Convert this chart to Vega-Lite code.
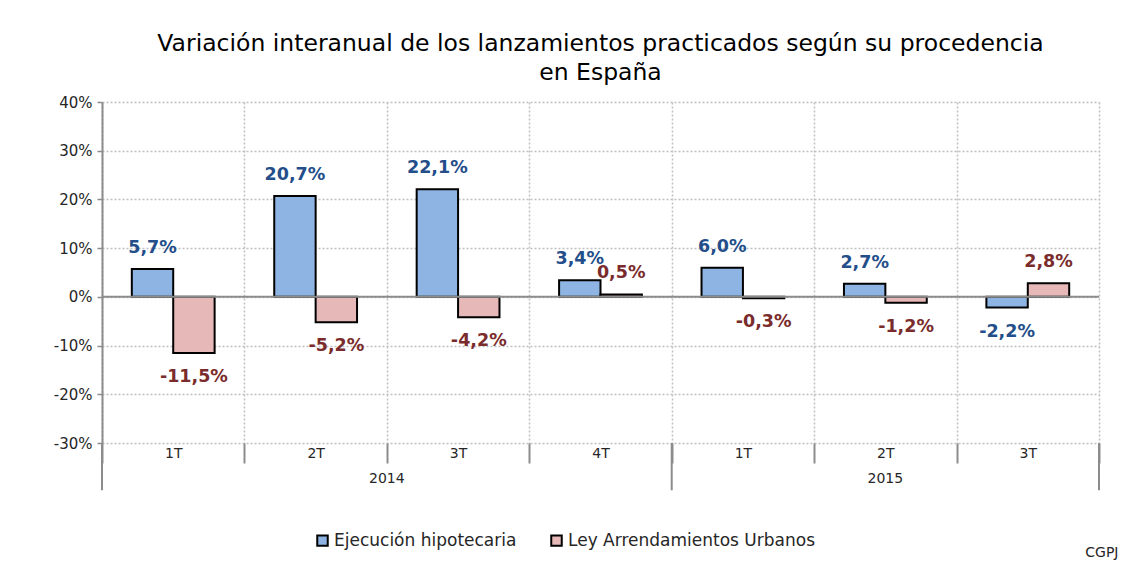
{
  "$schema": "https://vega.github.io/schema/vega-lite/v6.json",
  "width": 997,
  "height": 341,
  "autosize": {"type": "none"},
  "padding": {"left": 102, "top": 102, "right": 32, "bottom": 129},
  "background": "white",
  "config": {
    "font": "DejaVu Sans",
    "view": {"stroke": null},
    "locale": {"number": {"decimal": ",", "thousands": ".", "grouping": [3], "currency": ["", " €"], "minus": "-", "percent": "%"}}
  },
  "title": {
    "text": ["Variación interanual de los lanzamientos practicados según su procedencia", "en España"],
    "fontSize": 23.5,
    "fontWeight": "normal",
    "color": "#000000",
    "anchor": "middle",
    "offset": 11,
    "lineHeight": 29
  },
  "data": {
    "values": [
      {"periodo": "2014-1T", "serie": "Ejecución hipotecaria", "valor": 0.057},
      {"periodo": "2014-1T", "serie": "Ley Arrendamientos Urbanos", "valor": -0.115},
      {"periodo": "2014-2T", "serie": "Ejecución hipotecaria", "valor": 0.207},
      {"periodo": "2014-2T", "serie": "Ley Arrendamientos Urbanos", "valor": -0.052},
      {"periodo": "2014-3T", "serie": "Ejecución hipotecaria", "valor": 0.221},
      {"periodo": "2014-3T", "serie": "Ley Arrendamientos Urbanos", "valor": -0.042},
      {"periodo": "2014-4T", "serie": "Ejecución hipotecaria", "valor": 0.034},
      {"periodo": "2014-4T", "serie": "Ley Arrendamientos Urbanos", "valor": 0.005},
      {"periodo": "2015-1T", "serie": "Ejecución hipotecaria", "valor": 0.060},
      {"periodo": "2015-1T", "serie": "Ley Arrendamientos Urbanos", "valor": -0.003},
      {"periodo": "2015-2T", "serie": "Ejecución hipotecaria", "valor": 0.027},
      {"periodo": "2015-2T", "serie": "Ley Arrendamientos Urbanos", "valor": -0.012},
      {"periodo": "2015-3T", "serie": "Ejecución hipotecaria", "valor": -0.022},
      {"periodo": "2015-3T", "serie": "Ley Arrendamientos Urbanos", "valor": 0.028}
    ]
  },
  "encoding": {
    "x": {
      "field": "periodo",
      "type": "nominal",
      "sort": ["2014-1T", "2014-2T", "2014-3T", "2014-4T", "2015-1T", "2015-2T", "2015-3T"],
      "scale": {"paddingInner": 0, "paddingOuter": 0},
      "axis": {
        "title": "CGPJ",
        "titleAnchor": "end",
        "titleAlign": "right",
        "titleX": 1016,
        "titleY": 109,
        "titleBaseline": "middle",
        "titleFontSize": 14,
        "titleFontWeight": "normal",
        "titleColor": "#262626",
        "labelExpr": "split(datum.value, '-')[1]",
        "labelAngle": 0,
        "labelFontSize": 14,
        "labelColor": "#262626",
        "labelPadding": -17,
        "domain": false,
        "ticks": true,
        "tickBand": "extent",
        "tickSize": 20,
        "tickColor": "#8c8c8c",
        "tickWidth": 2,
        "grid": true,
        "gridDash": [2, 2],
        "gridColor": "#c0c0c0",
        "gridWidth": 1.5
      }
    },
    "y": {
      "type": "quantitative",
      "scale": {"domain": [-0.3, 0.4], "nice": false, "zero": false},
      "axis": {
        "title": null,
        "values": [-0.3, -0.2, -0.1, 0, 0.1, 0.2, 0.3, 0.4],
        "format": ".0%",
        "labelFontSize": 15,
        "labelColor": "#262626",
        "labelPadding": 5,
        "domain": true,
        "domainColor": "#8c8c8c",
        "domainWidth": 2,
        "tickSize": 5,
        "tickColor": "#8c8c8c",
        "tickWidth": 1.5,
        "grid": true,
        "gridDash": [2, 2],
        "gridColor": "#c0c0c0",
        "gridWidth": 1.5
      }
    }
  },
  "layer": [
    {
      "mark": {"type": "bar", "stroke": "#000000", "strokeWidth": 2},
      "encoding": {
        "xOffset": {"field": "serie", "type": "nominal", "scale": {"paddingInner": 0, "paddingOuter": 0.72}},
        "y": {"field": "valor", "type": "quantitative"},
        "color": {
          "field": "serie",
          "type": "nominal",
          "scale": {"domain": ["Ejecución hipotecaria", "Ley Arrendamientos Urbanos"], "range": ["#8DB4E2", "#E6B9B8"]},
          "legend": {
            "title": null,
            "orient": "none",
            "direction": "horizontal",
            "legendX": 212,
            "legendY": 430,
            "symbolType": "square",
            "symbolSize": 110,
            "symbolStrokeColor": "#000000",
            "symbolStrokeWidth": 2,
            "labelFontSize": 17,
            "labelLimit": 0,
            "labelColor": "#262626",
            "labelOffset": 3,
            "columnPadding": 30
          }
        }
      }
    },
    {
      "data": {"values": [{"ref": 0}]},
      "mark": {"type": "rule", "color": "#8c8c8c", "strokeWidth": 2},
      "encoding": {"y": {"field": "ref", "type": "quantitative"}, "x": null}
    },
    {
      "transform": [{"filter": "datum.valor >= 0"}],
      "mark": {"type": "text", "fontWeight": "bold", "fontSize": 17.5, "baseline": "alphabetic", "dy": -16},
      "encoding": {
        "xOffset": {"field": "serie", "type": "nominal", "scale": {"paddingInner": 0, "paddingOuter": 0.72}},
        "y": {"field": "valor", "type": "quantitative"},
        "text": {"field": "valor", "type": "quantitative", "format": ".1%"},
        "color": {"condition": {"test": "datum.serie === 'Ejecución hipotecaria'", "value": "#234E8A"}, "value": "#7A2C2C"}
      }
    },
    {
      "transform": [{"filter": "datum.valor < 0"}],
      "mark": {"type": "text", "fontWeight": "bold", "fontSize": 17.5, "baseline": "top", "dy": 15},
      "encoding": {
        "xOffset": {"field": "serie", "type": "nominal", "scale": {"paddingInner": 0, "paddingOuter": 0.72}},
        "y": {"field": "valor", "type": "quantitative"},
        "text": {"field": "valor", "type": "quantitative", "format": ".1%"},
        "color": {"condition": {"test": "datum.serie === 'Ejecución hipotecaria'", "value": "#234E8A"}, "value": "#7A2C2C"}
      }
    },
    {
      "data": {"values": [{"anio": "2014", "periodo": "2014-2T"}]},
      "mark": {"type": "text", "fontSize": 14, "color": "#262626", "baseline": "middle", "dy": 36},
      "encoding": {
        "x": {"field": "periodo", "type": "nominal", "bandPosition": 1},
        "y": {"datum": -0.3},
        "text": {"field": "anio"}
      }
    },
    {
      "data": {"values": [{"anio": "2015", "periodo": "2015-2T"}]},
      "mark": {"type": "text", "fontSize": 14, "color": "#262626", "baseline": "middle", "dy": 36},
      "encoding": {
        "x": {"field": "periodo", "type": "nominal", "bandPosition": 0.5},
        "y": {"datum": -0.3},
        "text": {"field": "anio"}
      }
    },
    {
      "data": {"values": [{"periodo": "2014-1T"}, {"periodo": "2015-1T"}]},
      "mark": {"type": "rule", "color": "#8c8c8c", "strokeWidth": 2},
      "encoding": {
        "x": {"field": "periodo", "type": "nominal", "bandPosition": 0},
        "y": {"datum": -0.3},
        "y2": {"datum": -0.397}
      }
    },
    {
      "data": {"values": [{"periodo": "2015-3T"}]},
      "mark": {"type": "rule", "color": "#8c8c8c", "strokeWidth": 2},
      "encoding": {
        "x": {"field": "periodo", "type": "nominal", "bandPosition": 1},
        "y": {"datum": -0.3},
        "y2": {"datum": -0.397}
      }
    }
  ]
}
